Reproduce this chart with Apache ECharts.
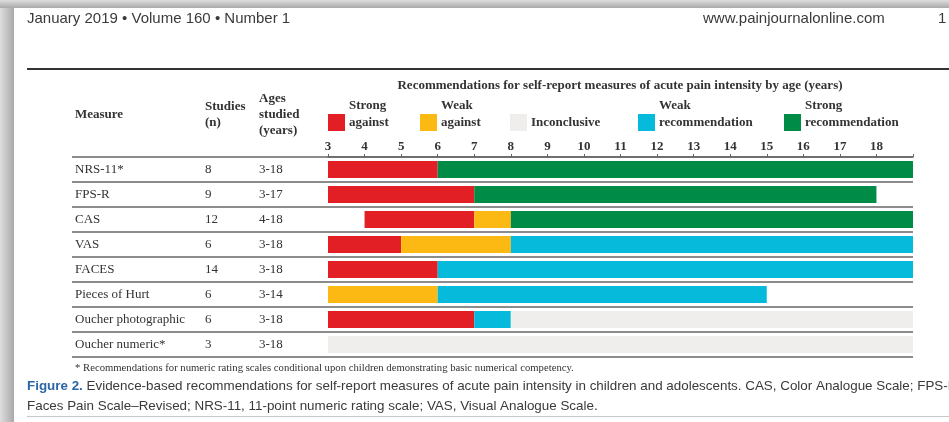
<!DOCTYPE html>
<html>
<head>
<meta charset="utf-8">
<script src="https://cdn.jsdelivr.net/npm/echarts@6/dist/echarts.min.js"></script>
<style>
  html, body { margin: 0; padding: 0; background: #ffffff; }
  #chart { width: 949px; height: 422px; }
</style>
</head>
<body>
<div id="chart"></div>
<script>
// Table rows
const measures = ['NRS-11*', 'FPS-R', 'CAS', 'VAS', 'FACES', 'Pieces of Hurt', 'Oucher photographic', 'Oucher numeric*'];
const studies = ['8', '9', '12', '6', '14', '6', '6', '3'];
const agesStudied = ['3-18', '3-17', '4-18', '3-18', '3-18', '3-14', '3-18', '3-18'];

// Recommendation categories
const ratingNames = [['Strong', 'against'], ['Weak', 'against'], ['', 'Inconclusive'], ['Weak', 'recommendation'], ['Strong', 'recommendation']];
const ratingColors = ['#e31f26', '#fdb913', '#efeeec', '#05badb', '#008b47'];

// Age boundaries of each row's segments and the rating of each segment
const rowBreaks = [
  [3, 6, 19],
  [3, 7, 18],
  [4, 7, 8, 19],
  [3, 5, 8, 19],
  [3, 6, 19],
  [3, 6, 15],
  [3, 7, 8, 19],
  [3, 19]
];
const rowRatings = [
  [0, 4],
  [0, 4],
  [0, 1, 4],
  [0, 1, 3],
  [0, 3],
  [1, 3],
  [0, 3, 2],
  [2]
];

// Age axis
const ageMin = 3;
const ageMax = 19;
const ageTickLabels = ['3', '4', '5', '6', '7', '8', '9', '10', '11', '12', '13', '14', '15', '16', '17', '18'];

const segmentData = [];
rowBreaks.forEach(function (br, r) {
  for (let k = 0; k < br.length - 1; k++) {
    segmentData.push([br[k], br[k + 1], r, rowRatings[r][k]]);
  }
});
const tableData = measures.map(function (m, i) { return [0, i]; });

const SERIF = '"Liberation Serif", "DejaVu Serif", serif';
const SANS = '"Liberation Sans", Arial, sans-serif';

// Legend blocks
const legendX = [328, 420, 510, 638, 784];
const legendGraphics = [];
ratingNames.forEach(function (nm, i) {
  legendGraphics.push({ type: 'rect', shape: { x: legendX[i], y: 114, width: 17, height: 17 }, style: { fill: ratingColors[i] } });
  if (nm[0]) {
    legendGraphics.push({ type: 'text', x: legendX[i] + 21, y: 106, style: { text: nm[0], font: 'bold 13px ' + SERIF, fill: '#333', textVerticalAlign: 'middle' } });
  }
  legendGraphics.push({ type: 'text', x: legendX[i] + 21, y: 123, style: { text: nm[1], font: 'bold 13px ' + SERIF, fill: '#333', textVerticalAlign: 'middle' } });
});

const chart = echarts.init(document.getElementById('chart'));
chart.setOption({
  animation: false,
  backgroundColor: '#ffffff',
  grid: [
    { left: 72, right: 36, top: 157, height: 200 },
    { left: 328, right: 36, top: 157, height: 200 }
  ],
  xAxis: [
    { gridIndex: 0, type: 'value', min: 0, max: 1, show: false },
    {
      gridIndex: 1, type: 'value', position: 'top', min: ageMin, max: ageMax, interval: 1,
      axisLine: { show: true, lineStyle: { color: '#666', width: 1.5 } },
      axisTick: { show: true, length: 3, lineStyle: { color: '#666' } },
      splitLine: { show: false },
      axisLabel: {
        margin: 4, color: '#333', fontFamily: SERIF, fontWeight: 'bold', fontSize: 13,
        formatter: function (v) { return ageTickLabels.indexOf(String(v)) >= 0 ? String(v) : ''; }
      }
    }
  ],
  yAxis: [
    {
      gridIndex: 0, type: 'category', data: measures, inverse: true,
      axisLine: { show: false }, axisTick: { show: false }, axisLabel: { show: false },
      splitLine: { show: true, lineStyle: { color: '#8c8c8c', width: 2 } }
    },
    {
      gridIndex: 1, type: 'category', data: measures, inverse: true, show: false
    }
  ],
  series: [
    {
      type: 'custom', xAxisIndex: 0, yAxisIndex: 0, data: tableData, silent: true,
      renderItem: function (params, api) {
        const i = api.value(1);
        const y = api.coord([0, i])[1];
        const f = '13px ' + SERIF;
        return {
          type: 'group',
          children: [
            { type: 'text', x: 75, y: y, style: { text: measures[i], font: f, fill: '#333', textVerticalAlign: 'middle' } },
            { type: 'text', x: 205, y: y, style: { text: studies[i], font: f, fill: '#333', textVerticalAlign: 'middle' } },
            { type: 'text', x: 259, y: y, style: { text: agesStudied[i], font: f, fill: '#333', textVerticalAlign: 'middle' } }
          ]
        };
      }
    },
    {
      type: 'custom', xAxisIndex: 1, yAxisIndex: 1, data: segmentData, silent: true,
      encode: { x: [0, 1], y: 2 },
      renderItem: function (params, api) {
        const s = api.coord([api.value(0), api.value(2)]);
        const e = api.coord([api.value(1), api.value(2)]);
        const h = api.size([0, 1])[1] * 0.68;
        return {
          type: 'rect',
          shape: { x: s[0], y: s[1] - h / 2, width: e[0] - s[0], height: h },
          style: { fill: ratingColors[api.value(3)] }
        };
      }
    }
  ],
  graphic: [
    // page shadow on the left and top edges
    { type: 'rect', shape: { x: 0, y: 0, width: 14, height: 422 }, style: { fill: new echarts.graphic.LinearGradient(0, 0, 1, 0, [{ offset: 0, color: '#dedede' }, { offset: 1, color: '#a9a9a9' }]) } },
    { type: 'rect', shape: { x: 0, y: 0, width: 949, height: 8 }, style: { fill: new echarts.graphic.LinearGradient(0, 0, 0, 1, [{ offset: 0, color: '#dedede' }, { offset: 1, color: '#a9a9a9' }]) } },
    // running head
    { type: 'text', x: 27, y: 19, style: { text: 'January 2019 \u2022 Volume 160 \u2022 Number 1', font: '15px ' + SANS, fill: '#3a3a3a', textVerticalAlign: 'middle' } },
    { type: 'text', x: 703, y: 19, style: { text: 'www.painjournalonline.com', font: '15px ' + SANS, fill: '#3a3a3a', textVerticalAlign: 'middle' } },
    { type: 'text', x: 938, y: 19, style: { text: '1', font: '15px ' + SANS, fill: '#3a3a3a', textVerticalAlign: 'middle' } },
    { type: 'rect', shape: { x: 27, y: 68, width: 922, height: 2 }, style: { fill: '#333' } },
    // table header
    { type: 'text', x: 75, y: 115, style: { text: 'Measure', font: 'bold 13px ' + SERIF, fill: '#333', textVerticalAlign: 'middle' } },
    { type: 'text', x: 205, y: 107, style: { text: 'Studies', font: 'bold 13px ' + SERIF, fill: '#333', textVerticalAlign: 'middle' } },
    { type: 'text', x: 205, y: 123, style: { text: '(n)', font: 'bold 13px ' + SERIF, fill: '#333', textVerticalAlign: 'middle' } },
    { type: 'text', x: 259, y: 99, style: { text: 'Ages', font: 'bold 13px ' + SERIF, fill: '#333', textVerticalAlign: 'middle' } },
    { type: 'text', x: 259, y: 115, style: { text: 'studied', font: 'bold 13px ' + SERIF, fill: '#333', textVerticalAlign: 'middle' } },
    { type: 'text', x: 259, y: 131, style: { text: '(years)', font: 'bold 13px ' + SERIF, fill: '#333', textVerticalAlign: 'middle' } },
    { type: 'text', x: 620, y: 86, style: { text: 'Recommendations for self-report measures of acute pain intensity by age (years)', font: 'bold 13px ' + SERIF, fill: '#333', textAlign: 'center', textVerticalAlign: 'middle' } },
    { type: 'rect', shape: { x: 72, y: 156, width: 256, height: 1.5 }, style: { fill: '#666' } },
    // footnote and caption
    { type: 'text', x: 75, y: 368, style: { text: '* Recommendations for numeric rating scales conditional upon children demonstrating basic numerical competency.', font: '10.7px ' + SERIF, fill: '#333', textVerticalAlign: 'middle' } },
    { type: 'text', x: 27, y: 386, style: { text: '{b|Figure 2.} Evidence-based recommendations for self-report measures of acute pain intensity in children and adolescents. CAS, Color Analogue Scale; FPS-R', font: '13.4px ' + SANS, fill: '#3a3a3a', textVerticalAlign: 'middle', rich: { b: { font: 'bold 13.4px ' + SANS, fill: '#2b66a8' } } } },
    { type: 'text', x: 27, y: 406, style: { text: 'Faces Pain Scale\u2013Revised; NRS-11, 11-point numeric rating scale; VAS, Visual Analogue Scale.', font: '13.4px ' + SANS, fill: '#3a3a3a', textVerticalAlign: 'middle' } },
    { type: 'rect', shape: { x: 27, y: 416, width: 922, height: 1 }, style: { fill: '#c8c8c8' } }
  ].concat(legendGraphics)
});
</script>
</body>
</html>
